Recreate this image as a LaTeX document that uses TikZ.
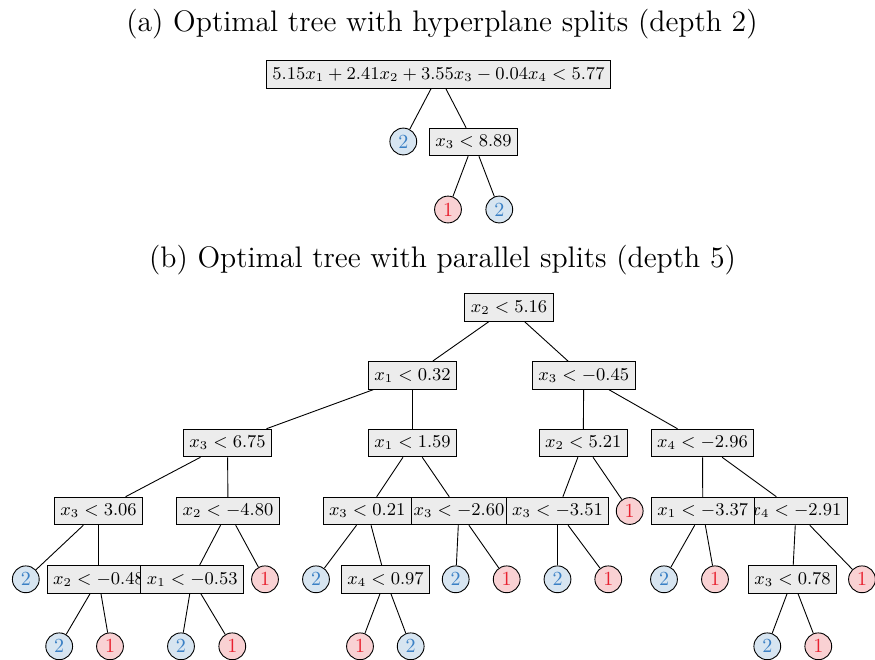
\documentclass[tikz,border=0pt]{standalone}
\definecolor{boxfill}{HTML}{ECECEC}
\definecolor{bluefill}{HTML}{D7E5F1}
\definecolor{bluetext}{HTML}{3A80C5}
\definecolor{redfill}{HTML}{F9D1D3}
\definecolor{redtext}{HTML}{E8202F}
\tikzset{
  split/.style={draw, fill=boxfill, rectangle, inner sep=3pt, minimum height=13.8pt, font=\small, line width=0.45pt},
  leafb/.style={draw, fill=bluefill, circle, inner sep=0pt, minimum size=13.4pt, text=bluetext, font=\normalsize, line width=0.45pt},
  leafr/.style={draw, fill=redfill, circle, inner sep=0pt, minimum size=13.4pt, text=redtext, font=\normalsize, line width=0.45pt},
  ttl/.style={font=\fontsize{14.85}{18}\selectfont, inner sep=0pt},
  conn/.style={line width=0.45pt}
}
\begin{document}
\begin{tikzpicture}[x=0.5pt, y=-0.5pt]
\useasboundingbox (0,0) rectangle (875,660);
% ---------- (a) ----------
\node[ttl] (ta) at (442,24) {(a) Optimal tree with hyperplane splits (depth 2)};
\node[split] (a0) at (438.5,74.5) {$5.15x_1+2.41x_2+3.55x_3-0.04x_4<5.77$};
\node[leafb] (a1) at (403.3,141.5) {2};
\node[split] (a2) at (473.5,142) {$x_3<8.89$};
\node[leafr] (a3) at (448,209.5) {1};
\node[leafb] (a4) at (499.3,209.5) {2};
\draw[conn] (a0) -- (a1);
\draw[conn] (a0) -- (a2);
\draw[conn] (a2) -- (a3);
\draw[conn] (a2) -- (a4);
% ---------- (b) ----------
\node[ttl] (tb) at (442.5,260) {(b) Optimal tree with parallel splits (depth 5)};
% level 1
\node[split] (r) at (509,307.5) {$x_2<5.16$};
% level 2
\node[split] (L) at (412.5,375.3) {$x_1<0.32$};
\node[split] (R) at (583.7,375.3) {$x_3<-0.45$};
% level 3
\node[split] (LL) at (227.5,443) {$x_3<6.75$};
\node[split] (LR) at (412.5,443) {$x_1<1.59$};
\node[split] (RL) at (583.3,443) {$x_2<5.21$};
\node[split] (RR) at (702.5,443) {$x_4<-2.96$};
% level 4
\node[split] (LLL) at (98.5,511) {$x_3<3.06$};
\node[split] (LLR) at (228,511) {$x_2<-4.80$};
\node[split] (LRR) at (459,511) {$x_3<-2.60$};
\node[split] (LRL) at (367.2,511) {$x_3<0.21$};
\node[split] (RLL) at (557.5,511) {$x_3<-3.51$};
\node[leafr] (RLR) at (629.7,511) {1};
\node[split] (RRR) at (796,511) {$x_4<-2.91$};
\node[split] (RRL) at (702.8,511) {$x_1<-3.37$};
% level 5
\node[leafb] (l1) at (25.8,579.3) {2};
\node[split] (n2) at (98.5,579.3) {$x_2<-0.48$};
\node[split] (n3) at (192.2,579.3) {$x_1<-0.53$};
\node[leafr] (l4) at (265,579.3) {1};
\node[leafb] (l5) at (316,579.3) {2};
\node[split] (n6) at (385.5,579.3) {$x_4<0.97$};
\node[leafb] (l7) at (455.7,579.3) {2};
\node[leafr] (l8) at (506.7,579.3) {1};
\node[leafb] (l9) at (557.5,579.3) {2};
\node[leafr] (l10) at (608.3,579.3) {1};
\node[leafb] (l11) at (664,579.3) {2};
\node[leafr] (l12) at (715,579.3) {1};
\node[split] (n13) at (792.5,579.3) {$x_3<0.78$};
\node[leafr] (l14) at (862,579.3) {1};
% level 6
\node[leafb] (m1) at (59.2,646.3) {2};
\node[leafr] (m2) at (110,646.3) {1};
\node[leafb] (m3) at (181,646.3) {2};
\node[leafr] (m4) at (232.3,646.3) {1};
\node[leafr] (m5) at (360,646.3) {1};
\node[leafb] (m6) at (410.7,646.3) {2};
\node[leafb] (m7) at (767.3,646.3) {2};
\node[leafr] (m8) at (818.3,646.3) {1};
% edges
\foreach \p/\c in {r/L, r/R, L/LL, L/LR, R/RL, R/RR,
  LL/LLL, LL/LLR, LR/LRL, LR/LRR, RL/RLL, RL/RLR, RR/RRL, RR/RRR,
  LLL/l1, LLL/n2, LLR/n3, LLR/l4, LRL/l5, LRL/n6, LRR/l7, LRR/l8,
  RLL/l9, RLL/l10, RRL/l11, RRL/l12, RRR/n13, RRR/l14,
  n2/m1, n2/m2, n3/m3, n3/m4, n6/m5, n6/m6, n13/m7, n13/m8}
  \draw[conn] (\p) -- (\c);
\end{tikzpicture}
\end{document}
